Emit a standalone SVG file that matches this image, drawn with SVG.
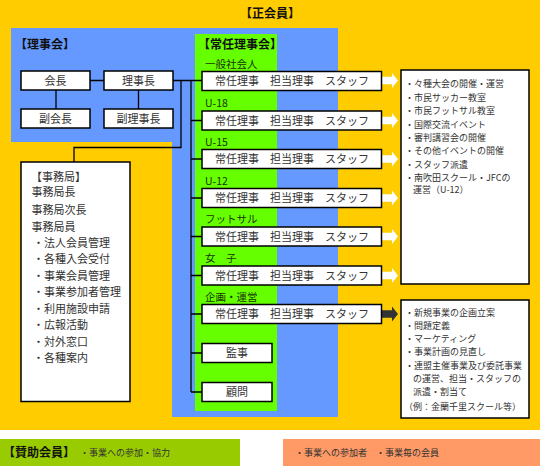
<svg xmlns="http://www.w3.org/2000/svg" width="540" height="466" viewBox="0 0 540 466">
<defs>
<style>
text{font-family:"Noto Sans CJK JP","Liberation Sans",sans-serif;fill:#333;}
.box{fill:#fff;stroke:#000;stroke-width:1.5;}
.hd{font-size:12px;font-weight:bold;fill:#111;}
.t11{font-size:11px;}
.t9{font-size:9px;}
.cat{font-size:10.5px;fill:#1a3300;}
.ln{fill:none;stroke:#000;stroke-width:1.3;}
.c{text-anchor:middle;}
</style>
<polygon id="arw" points="0,-3.7 10,-3.7 10,-7.5 16,0 10,7.5 10,3.7 0,3.7"/>
</defs>
<rect x="0" y="0" width="540" height="430" fill="#ffcc00"/>
<rect x="0" y="430" width="540" height="36" fill="#fff"/>
<rect x="11" y="28" width="327" height="114" fill="#6699ff"/>
<rect x="172" y="28" width="166" height="389" fill="#6699ff"/>
<rect x="195" y="34" width="82" height="377" fill="#66ff00"/>
<text class="hd c" x="270" y="18">【正会員】</text>
<text class="hd" x="15" y="49">【理事会】</text>
<text class="hd" x="198" y="49">【常任理事会】</text>
<g id="connectors">
<path class="ln" d="M90,80.5H104M56,90V109M138.5,90V109M173,80.5H202M181,80.5V147.5H74V162M191,80.5V392"/>
<path class="ln" d="M191,120.5H202M191,159H202M191,198H202M191,236.5H202M191,275.5H202M191,314H202M191,353H202M191,392H202"/>
<use href="#arw" x="382" y="80.5" fill="#fff"/>
<use href="#arw" x="382" y="120.5" fill="#fff"/>
<use href="#arw" x="382" y="159" fill="#fff"/>
<use href="#arw" x="382" y="198" fill="#fff"/>
<use href="#arw" x="382" y="236.5" fill="#fff"/>
<use href="#arw" x="382" y="275.5" fill="#fff"/>
<use href="#arw" x="382" y="314" fill="#333"/>
</g>
<g id="kaicho"><rect class="box" x="21" y="71" width="69" height="19"/><text class="t11 c" x="55.5" y="84.5">会長</text></g>
<g id="rijicho"><rect class="box" x="104" y="71" width="69" height="19"/><text class="t11 c" x="138.5" y="84.5">理事長</text></g>
<g id="fukukaicho"><rect class="box" x="21" y="109" width="69" height="19"/><text class="t11 c" x="55.5" y="122.5">副会長</text></g>
<g id="fukurijicho"><rect class="box" x="104" y="109" width="69" height="19"/><text class="t11 c" x="138.5" y="122.5">副理事長</text></g>
<g id="jimukyoku"><rect class="box" x="21" y="162" width="109" height="239.5"/>
<text class="t11" x="31" y="181">【事務局】</text>
<text class="t11" x="31.5" y="196">事務局長</text>
<text class="t11" x="31.5" y="213.5">事務局次長</text>
<text class="t11" x="31.5" y="230.5">事務局員</text>
<text class="t11" x="33" y="247">・法人会員管理</text>
<text class="t11" x="33" y="262.5">・各種入会受付</text>
<text class="t11" x="33" y="280">・事業会員管理</text>
<text class="t11" x="33" y="296">・事業参加者管理</text>
<text class="t11" x="33" y="313">・利用施設申請</text>
<text class="t11" x="33" y="329">・広報活動</text>
<text class="t11" x="33" y="345.5">・対外窓口</text>
<text class="t11" x="33" y="362">・各種案内</text>
</g>
<g id="row1"><text class="cat" x="205" y="68">一般社会人</text><rect class="box" x="202" y="71.5" width="179.5" height="19"/><text class="t11" x="215" y="85">常任理事　担当理事　スタッフ</text></g>
<g id="row2"><text class="cat" x="205" y="107">U-18</text><rect class="box" x="202" y="111" width="179.5" height="19"/><text class="t11" x="215" y="124.5">常任理事　担当理事　スタッフ</text></g>
<g id="row3"><text class="cat" x="205" y="146">U-15</text><rect class="box" x="202" y="149.5" width="179.5" height="19"/><text class="t11" x="215" y="163">常任理事　担当理事　スタッフ</text></g>
<g id="row4"><text class="cat" x="205" y="185">U-12</text><rect class="box" x="202" y="188.5" width="179.5" height="19"/><text class="t11" x="215" y="202">常任理事　担当理事　スタッフ</text></g>
<g id="row5"><text class="cat" x="205" y="223">フットサル</text><rect class="box" x="202" y="227" width="179.5" height="19"/><text class="t11" x="215" y="240.5">常任理事　担当理事　スタッフ</text></g>
<g id="row6"><text class="cat" x="205" y="262">女　子</text><rect class="box" x="202" y="266" width="179.5" height="19"/><text class="t11" x="215" y="279.5">常任理事　担当理事　スタッフ</text></g>
<g id="row7"><text class="cat" x="205" y="301">企画・運営</text><rect class="box" x="202" y="304.5" width="179.5" height="19"/><text class="t11" x="215" y="318">常任理事　担当理事　スタッフ</text></g>
<g id="kanji"><rect class="box" x="202" y="343.5" width="70" height="19"/><text class="t11 c" x="237" y="357">監事</text></g>
<g id="komon"><rect class="box" x="202" y="382.5" width="70" height="19"/><text class="t11 c" x="237" y="396">顧問</text></g>
<g id="info1"><rect class="box" x="401" y="70" width="128" height="214"/>
<text class="t9" x="405" y="87">・々種大会の開催・運営</text>
<text class="t9" x="405" y="100.5">・市民サッカー教室</text>
<text class="t9" x="405" y="114">・市民フットサル教室</text>
<text class="t9" x="405" y="127.5">・国際交流イベント</text>
<text class="t9" x="405" y="140.5">・審判講習会の開催</text>
<text class="t9" x="405" y="154">・その他イベントの開催</text>
<text class="t9" x="405" y="167.5">・スタッフ派遣</text>
<text class="t9" x="405" y="180.5">・南吹田スクール・JFCの</text>
<text class="t9" x="413" y="193">運営（U-12）</text>
</g>
<g id="info2"><rect class="box" x="401" y="300" width="128" height="118"/>
<text class="t9" x="405" y="316">・新規事業の企画立案</text>
<text class="t9" x="405" y="329">・問題定義</text>
<text class="t9" x="405" y="342">・マーケティング</text>
<text class="t9" x="405" y="355">・事業計画の見直し</text>
<text class="t9" x="405" y="368.5">・連盟主催事業及び委託事業</text>
<text class="t9" x="413" y="381.5">の運営、担当・スタッフの</text>
<text class="t9" x="413" y="395">派遣・割当て</text>
<text class="t9" x="404" y="410">（例：金蘭千里スクール等）</text>
</g>
<g id="sanjo"><rect x="0" y="439" width="240" height="27" fill="#99cc00"/>
<text class="hd" x="3" y="457">【賛助会員】</text>
<text class="t9" x="80" y="456">・事業への参加・協力</text></g>
<g id="other"><rect x="283" y="439" width="257" height="27" fill="#ff9966"/>
<text class="t9" x="295" y="456">・事業への参加者　・事業毎の会員</text></g>
</svg>
